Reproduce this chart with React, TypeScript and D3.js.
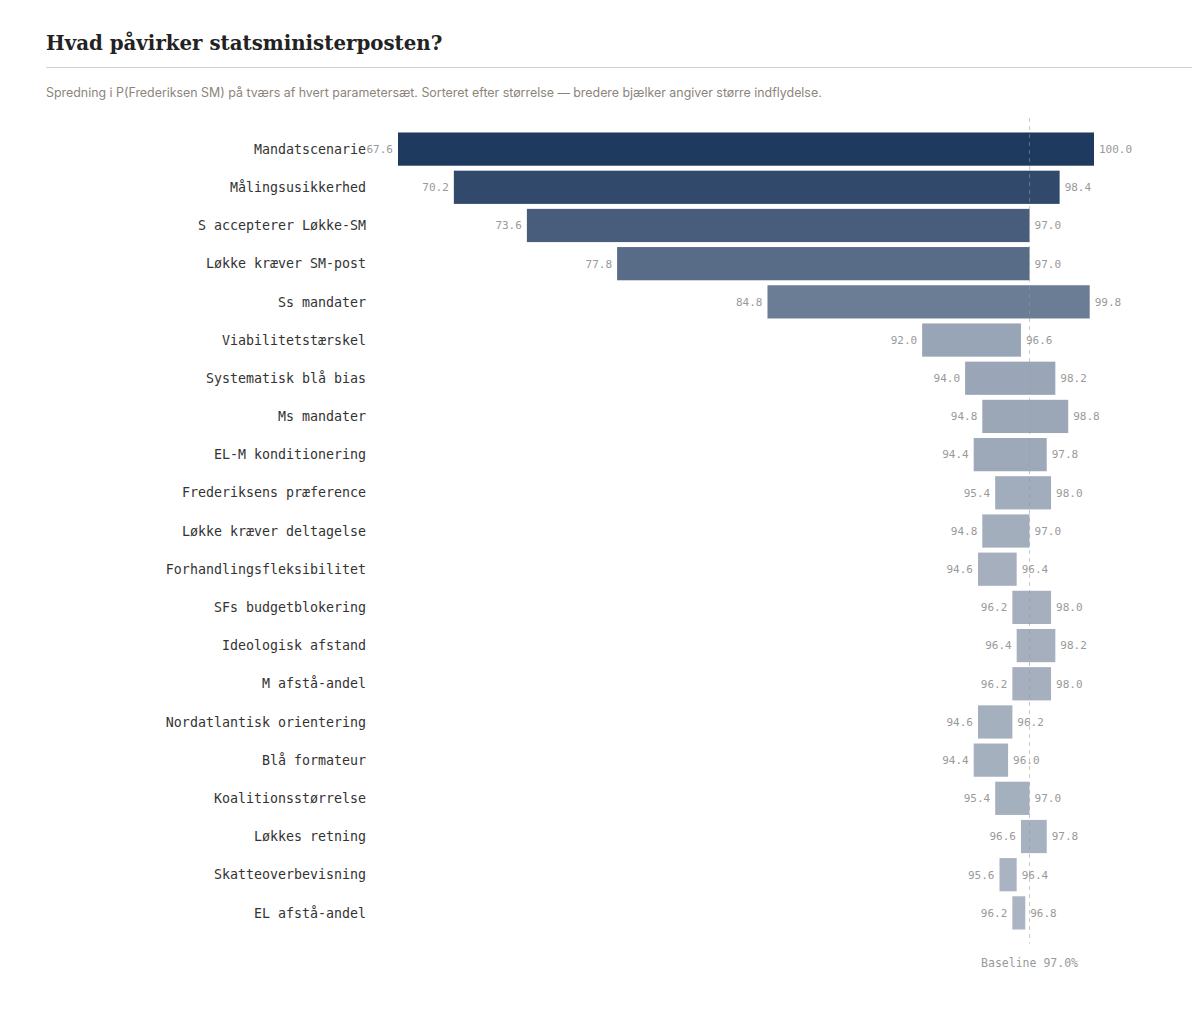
import * as d3 from 'd3';

const parameters = [
  'Mandatscenarie',
  'Målingsusikkerhed',
  'S accepterer Løkke-SM',
  'Løkke kræver SM-post',
  'Ss mandater',
  'Viabilitetstærskel',
  'Systematisk blå bias',
  'Ms mandater',
  'EL-M konditionering',
  'Frederiksens præference',
  'Løkke kræver deltagelse',
  'Forhandlingsfleksibilitet',
  'SFs budgetblokering',
  'Ideologisk afstand',
  'M afstå-andel',
  'Nordatlantisk orientering',
  'Blå formateur',
  'Koalitionsstørrelse',
  'Løkkes retning',
  'Skatteoverbevisning',
  'EL afstå-andel'
];

const lowValues = [
  67.6, 70.2, 73.6, 77.8, 84.8, 92.0, 94.0, 94.8, 94.4, 95.4, 94.8,
  94.6, 96.2, 96.4, 96.2, 94.6, 94.4, 95.4, 96.6, 95.6, 96.2
];

const highValues = [
  100.0, 98.4, 97.0, 97.0, 99.8, 96.6, 98.2, 98.8, 97.8, 98.0, 97.0,
  96.4, 98.0, 98.2, 98.0, 96.2, 96.0, 97.0, 97.8, 96.4, 96.8
];

const baseline = 97.0;

const width = 1200;
const height = 1017;
const margin = { top: 130, right: 106, bottom: 85, left: 398 };

const monoFont = "'DejaVu Sans Mono', 'Liberation Mono', monospace";

export default function App() {
  const rows = parameters.map((name, i) => ({
    name,
    low: lowValues[i],
    high: highValues[i],
    spread: highValues[i] - lowValues[i]
  }));

  const x = d3
    .scaleLinear()
    .domain([d3.min(lowValues) as number, d3.max(highValues) as number])
    .range([margin.left, width - margin.right]);

  const y = d3
    .scaleBand()
    .domain(parameters)
    .range([margin.top, height - margin.bottom])
    .paddingInner(0.13)
    .paddingOuter(0.065);

  // wider spread -> darker bar
  const maxSpread = d3.max(rows, d => d.spread) as number;
  const opacity = d3.scaleLinear().domain([0, maxSpread]).range([0.37, 1]);

  const bx = x(baseline);
  const lastY = (y(parameters[parameters.length - 1]) as number) + y.bandwidth();

  return (
    <svg
      width={width}
      height={height}
      style={{ position: 'absolute', left: 0, top: 0, background: '#fff' }}
    >
      <text
        x={46}
        y={50}
        fontFamily="'DejaVu Serif', 'Liberation Serif', serif"
        fontWeight={700}
        fontSize={19.8}
        fill="#222"
      >
        Hvad påvirker statsministerposten?
      </text>
      <line x1={46} x2={1192} y1={67.5} y2={67.5} stroke="#d0d0d0" />
      <text
        x={46}
        y={97}
        fontFamily="Inter, 'Noto Sans', sans-serif"
        fontSize={12.4}
        fill="#8c847c"
      >
        Spredning i P(Frederiksen SM) på tværs af hvert parametersæt. Sorteret efter størrelse — bredere bjælker angiver større indflydelse.
      </text>

      <g>
        {rows.map(d => (
          <rect
            key={d.name}
            x={x(d.low)}
            y={y(d.name)}
            width={x(d.high) - x(d.low)}
            height={y.bandwidth()}
            fill="#1f3a5f"
            fillOpacity={opacity(d.spread)}
          />
        ))}
      </g>

      <line
        x1={bx}
        x2={bx}
        y1={118}
        y2={lastY + 14}
        stroke="#9a9a9a"
        strokeOpacity={0.55}
        strokeDasharray="4,4"
      />

      <g fontFamily={monoFont}>
        {rows.map(d => {
          const cy = (y(d.name) as number) + y.bandwidth() / 2;
          return (
            <g key={d.name}>
              <text
                x={366}
                y={cy}
                dy="0.35em"
                textAnchor="end"
                fontSize={13.3}
                fill="#333"
              >
                {d.name}
              </text>
              <text
                x={x(d.low) - 5}
                y={cy}
                dy="0.35em"
                textAnchor="end"
                fontSize={11}
                fill="#999"
              >
                {d.low.toFixed(1)}
              </text>
              <text
                x={x(d.high) + 5}
                y={cy}
                dy="0.35em"
                fontSize={11}
                fill="#999"
              >
                {d.high.toFixed(1)}
              </text>
            </g>
          );
        })}
        <text
          x={bx}
          y={967}
          textAnchor="middle"
          fontSize={11.5}
          fill="#999"
        >
          Baseline {baseline.toFixed(1)}%
        </text>
      </g>
    </svg>
  );
}
